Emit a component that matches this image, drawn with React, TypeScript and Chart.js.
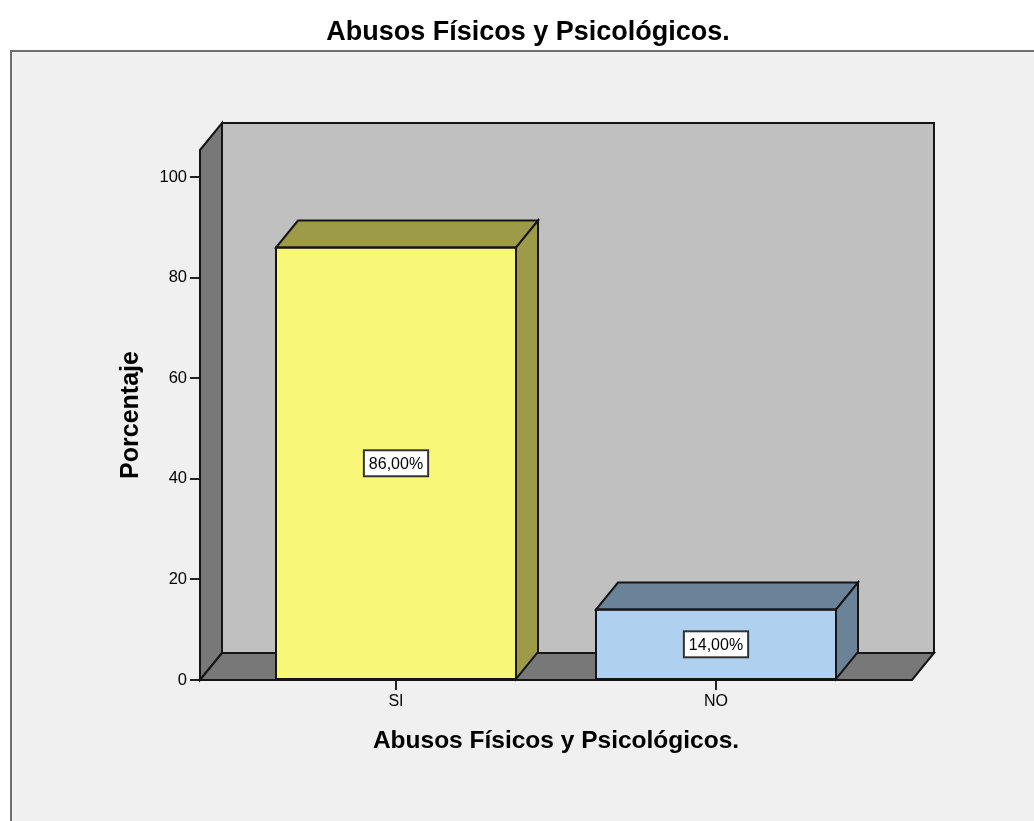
import React, { useEffect, useRef } from "react";
import { Chart, registerables } from "chart.js";

Chart.register(...registerables);

const chartTitle = "Abusos Físicos y Psicológicos.";
const xAxisTitle = "Abusos Físicos y Psicológicos.";
const yAxisTitle = "Porcentaje";
const categories = ["SI", "NO"];
const percentages = [86, 14];
const valueLabels = ["86,00%", "14,00%"];
const yTicks = [0, 20, 40, 60, 80, 100];
const yMax = 105.4;

const frontColors = ["#f9f777", "#afd0ef"];
const shadeColors = ["#9d9a48", "#6b8398"];

const FONT = "'Liberation Sans', Arial, sans-serif";
const DX = 22;
const DY = -27;
const EDGE = "#151515";

function poly(ctx: CanvasRenderingContext2D, pts: number[][], fill: string) {
  ctx.beginPath();
  ctx.moveTo(pts[0][0], pts[0][1]);
  for (let i = 1; i < pts.length; i++) ctx.lineTo(pts[i][0], pts[i][1]);
  ctx.closePath();
  ctx.fillStyle = fill;
  ctx.fill();
  ctx.stroke();
}

const spss3d = {
  id: "spss3d",
  beforeDraw(chart: any) {
    const ctx: CanvasRenderingContext2D = chart.ctx;
    ctx.save();
    ctx.fillStyle = "#ffffff";
    ctx.fillRect(0, 0, chart.width, chart.height);
    ctx.fillStyle = "#f0f0f0";
    ctx.fillRect(10, 50, chart.width, chart.height);
    ctx.strokeStyle = "#6f6f6f";
    ctx.lineWidth = 2;
    ctx.beginPath();
    ctx.moveTo(11, chart.height);
    ctx.lineTo(11, 51);
    ctx.lineTo(chart.width, 51);
    ctx.stroke();
    ctx.fillStyle = "#000";
    ctx.font = "bold 27px " + FONT;
    ctx.textAlign = "center";
    ctx.textBaseline = "middle";
    ctx.fillText(chartTitle, 528, 33);
    ctx.restore();
  },
  beforeDatasetsDraw(chart: any) {
    const { ctx, chartArea, scales } = chart;
    const l = chartArea.left;
    const r = chartArea.right;
    const t = chartArea.top;
    const b = scales.y.getPixelForValue(0);
    ctx.save();
    ctx.lineWidth = 2;
    ctx.strokeStyle = EDGE;
    ctx.lineJoin = "miter";
    poly(ctx, [[l + DX, t + DY], [r + DX, t + DY], [r + DX, b + DY], [l + DX, b + DY]], "#c0c0c0");
    poly(ctx, [[l, t], [l + DX, t + DY], [l + DX, b + DY], [l, b]], "#787878");
    poly(ctx, [[l, b], [l + DX, b + DY], [r + DX, b + DY], [r, b]], "#787878");
    ctx.restore();
  },
  afterDatasetsDraw(chart: any) {
    const { ctx } = chart;
    const meta = chart.getDatasetMeta(0);
    ctx.save();
    meta.data.forEach((bar: any, i: number) => {
      const { x, y, base, width } = bar.getProps(["x", "y", "base", "width"], true);
      const L = x - width / 2;
      const R = x + width / 2;
      ctx.lineWidth = 2;
      ctx.strokeStyle = EDGE;
      poly(ctx, [[L, y], [R, y], [R + DX, y + DY], [L + DX, y + DY]], shadeColors[i]);
      poly(ctx, [[R, y], [R + DX, y + DY], [R + DX, base + DY], [R, base]], shadeColors[i]);
      ctx.strokeRect(L, y, width, base - y);
      const cy = (y + base) / 2;
      ctx.font = "16px " + FONT;
      const tw = ctx.measureText(valueLabels[i]).width;
      const bw = tw + 10;
      const bh = 26;
      ctx.fillStyle = "#ffffff";
      ctx.lineWidth = 2;
      ctx.strokeStyle = "#333";
      ctx.fillRect(x - bw / 2, cy - bh / 2, bw, bh);
      ctx.strokeRect(x - bw / 2, cy - bh / 2, bw, bh);
      ctx.fillStyle = "#000";
      ctx.textAlign = "center";
      ctx.textBaseline = "middle";
      ctx.fillText(valueLabels[i], x, cy + 1);
    });
    ctx.restore();
  },
};

export default function App() {
  const ref = useRef<HTMLCanvasElement>(null);
  useEffect(() => {
    if (!ref.current) return;
    const chart = new Chart(ref.current, {
      type: "bar",
      data: {
        datasets: [
          {
            data: categories.map((c, i) => ({ x: i, y: percentages[i] })) as any,
            backgroundColor: frontColors,
            borderColor: EDGE,
            borderWidth: 0,
            barThickness: 240,
          },
        ],
      },
      options: {
        responsive: false,
        animation: false,
        devicePixelRatio: 1,
        layout: { padding: { top: 150, right: 122, left: 0, bottom: 0 } },
        plugins: {
          legend: { display: false },
          tooltip: { enabled: false },
          title: { display: false },
        },
        scales: {
          x: {
            type: "linear",
            offset: false,
            min: -0.6125,
            max: 1.6125,
            afterBuildTicks: (s: any) => {
              s.ticks = categories.map((_, i) => ({ value: i }));
            },
            afterFit: (s: any) => {
              s.height = 141;
            },
            ticks: {
              callback: (v: any) => categories[v as number],
              color: "#000",
              font: { family: FONT, size: 16 },
              padding: 2,
              autoSkip: false,
              maxRotation: 0,
            },
            grid: { offset: false, drawOnChartArea: false, tickLength: 10, color: "#222", lineWidth: 2 },
            border: { display: false },
            title: {
              display: true,
              text: xAxisTitle,
              color: "#000",
              font: { family: FONT, size: 24.5, weight: "bold" },
              padding: { top: 0, bottom: 65 },
            },
          },
          y: {
            min: 0,
            max: yMax,
            afterBuildTicks: (s: any) => {
              s.ticks = yTicks.map((v) => ({ value: v }));
            },
            afterFit: (s: any) => {
              s.width = 200;
            },
            ticks: {
              color: "#000",
              font: { family: FONT, size: 16.5 },
              padding: 3,
            },
            grid: { drawOnChartArea: false, tickLength: 10, color: "#222", lineWidth: 2 },
            border: { display: false },
            title: {
              display: true,
              text: yAxisTitle,
              color: "#000",
              font: { family: FONT, size: 25, weight: "bold" },
              padding: { top: 116, bottom: 0 },
            },
          },
        },
      },
      plugins: [spss3d],
    } as any);
    return () => chart.destroy();
  }, []);
  return (
    <div style={{ position: "absolute", left: 0, top: 0, width: 1034, height: 821 }}>
      <canvas ref={ref} width={1034} height={821} style={{ display: "block" }} />
    </div>
  );
}
